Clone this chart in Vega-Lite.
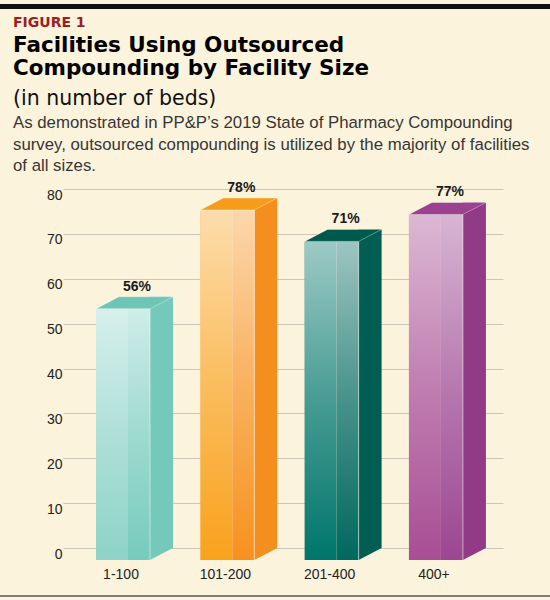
{
  "$schema": "https://vega.github.io/schema/vega-lite/v6.json",
  "background": "#fcf3dc",
  "padding": {"left": 0, "top": 0, "right": 0, "bottom": 2},
  "spacing": 9,
  "config": {"view": {"stroke": null}},
  "vconcat": [
    {
      "width": 550,
      "height": 5,
      "view": {"fill": "#111111", "stroke": null},
      "data": {"values": [{}]},
      "mark": {"type": "text", "text": ""},
      "title": {
        "text": "FIGURE 1",
        "subtitle": ["Facilities Using Outsourced", "Compounding by Facility Size"],
        "orient": "bottom",
        "anchor": "start",
        "dx": 13,
        "offset": 4,
        "font": "DejaVu Sans",
        "fontSize": 14,
        "fontWeight": "bold",
        "color": "#9c1c22",
        "subtitleFont": "DejaVu Sans",
        "subtitleFontSize": 21.5,
        "subtitleFontWeight": "bold",
        "subtitleColor": "#000000",
        "subtitleLineHeight": 23,
        "subtitlePadding": 5
      }
    },
    {
      "width": 503,
      "height": 359,
      "data": {
        "values": [
          {"size": "1-100", "pct": 56, "label": "56%"},
          {"size": "101-200", "pct": 78, "label": "78%"},
          {"size": "201-400", "pct": 71, "label": "71%"},
          {"size": "400+", "pct": 77, "label": "77%"}
        ]
      },
      "title": {
        "text": "(in number of beds)",
        "subtitle": [
          "As demonstrated in PP&P’s 2019 State of Pharmacy Compounding",
          "survey, outsourced compounding is utilized by the majority of facilities",
          "of all sizes."
        ],
        "anchor": "start",
        "frame": "group",
        "dx": 13,
        "offset": 6,
        "font": "DejaVu Sans",
        "fontSize": 20.5,
        "fontWeight": "normal",
        "color": "#111111",
        "subtitleFont": "Liberation Sans",
        "subtitleFontSize": 16.8,
        "subtitleColor": "#363636",
        "subtitleLineHeight": 21.5,
        "subtitlePadding": 6
      },
      "encoding": {
        "x": {
          "field": "size",
          "type": "nominal",
          "sort": null,
          "scale": {"paddingInner": 0, "paddingOuter": 0.4113, "align": 0.826},
          "axis": {
            "title": null,
            "ticks": false,
            "domain": false,
            "labelAngle": 0,
            "labelPadding": 19,
            "labelOffset": -2,
            "labelFont": "Liberation Sans",
            "labelFontSize": 14,
            "labelColor": "#222222"
          }
        },
        "y": {
          "field": "pct",
          "type": "quantitative",
          "scale": {"domain": [0, 80], "nice": false},
          "axis": {
            "values": [0, 10, 20, 30, 40, 50, 60, 70, 80],
            "title": null,
            "domain": false,
            "ticks": false,
            "grid": true,
            "gridColor": "#cbc8bb",
            "gridWidth": 1.2,
            "gridDash": [0, 63, 440, 200],
            "labelPadding": -62,
            "labelAlign": "right",
            "labelBaseline": "middle",
            "labelOffset": 6,
            "labelFont": "Liberation Sans",
            "labelFontSize": 14,
            "labelColor": "#222222"
          }
        }
      },
      "layer": [
        {
          "mark": {"type": "bar", "width": 23, "xOffset": 38.5, "opacity": 1},
          "encoding": {
            "color": {"field": "size", "type": "nominal", "sort": null, "legend": null,
              "scale": {"range": ["#74c9bb", "#f48e1e", "#005f52", "#913a86"]}}
          }
        },
        {
          "mark": {"type": "point", "shape": "M27,0L50,0L27,12Z", "size": 4, "filled": true, "opacity": 1},
          "encoding": {
            "y": {
              "datum": 0,
              "type": "quantitative",
              "scale": {"domain": [0, 80], "nice": false},
              "axis": {
                "values": [0, 10, 20, 30, 40, 50, 60, 70, 80],
                "title": null,
                "domain": false,
                "ticks": false,
                "grid": true,
                "gridColor": "#cbc8bb",
                "gridWidth": 1.2,
                "gridDash": [0, 63, 440, 200],
                "labelPadding": -62,
                "labelAlign": "right",
                "labelBaseline": "middle",
                "labelOffset": 6,
                "labelFont": "Liberation Sans",
                "labelFontSize": 14,
                "labelColor": "#222222"
              }
            },
            "color": {"field": "size", "type": "nominal", "sort": null, "legend": null,
              "scale": {"range": ["#74c9bb", "#f48e1e", "#005f52", "#913a86"]}}
          }
        },
        {
          "mark": {"type": "bar", "width": 32, "xOffset": -11, "yOffset": 12, "y2Offset": 12, "opacity": 1},
          "encoding": {
            "color": {"field": "size", "type": "nominal", "sort": null, "legend": null,
              "scale": {"range": ["#8dd3c7", "#f9a21d", "#00766a", "#a84e94"]}}
          }
        },
        {
          "mark": {"type": "bar", "width": 22, "xOffset": 16, "yOffset": 12, "y2Offset": 12, "opacity": 1},
          "encoding": {
            "color": {"field": "size", "type": "nominal", "sort": null, "legend": null,
              "scale": {"range": ["#76cbbd", "#f6921f", "#00685d", "#9c4791"]}}
          }
        },
        {
          "mark": {
            "type": "bar", "width": 54, "yOffset": 12, "y2Offset": 12,
            "fill": {
              "gradient": "linear", "x1": 0, "y1": 0, "x2": 0, "y2": 1,
              "stops": [
                {"offset": 0, "color": "rgba(255,255,255,1)"},
                {"offset": 0.5, "color": "rgba(255,255,255,0.45)"},
                {"offset": 1, "color": "rgba(255,255,255,0)"}
              ]
            }
          },
          "encoding": {
            "opacity": {"field": "size", "type": "nominal", "sort": null, "legend": null,
              "scale": {"range": [0.65, 0.6, 0.4, 0.55]}}
          }
        },
        {
          "mark": {"type": "bar", "width": 1, "xOffset": 27, "yOffset": 12, "y2Offset": 12, "color": "#ffffff", "opacity": 0.5}
        },
        {
          "mark": {"type": "point", "shape": "M-27,12L27,12L50,0L-4,0Z", "size": 4, "filled": true, "opacity": 1,
            "stroke": "#ffffff", "strokeOpacity": 0.45, "strokeWidth": 0.8},
          "encoding": {
            "color": {"field": "size", "type": "nominal", "sort": null, "legend": null,
              "scale": {"range": ["#6cc5b5", "#f59c1b", "#00594d", "#9a4190"]}}
          }
        },
        {
          "mark": {"type": "text", "font": "Liberation Sans", "fontSize": 14, "fontWeight": "bold", "color": "#1a1a1a", "dy": -6, "xOffset": 14, "baseline": "alphabetic"},
          "encoding": {"text": {"field": "label"}}
        }
      ],
      "resolve": {"scale": {"color": "independent"}}
    },
    {
      "width": 550,
      "height": 2,
      "view": {"fill": "#7d7d78", "stroke": null},
      "data": {"values": [{}]},
      "mark": {"type": "text", "text": ""}
    }
  ]
}
